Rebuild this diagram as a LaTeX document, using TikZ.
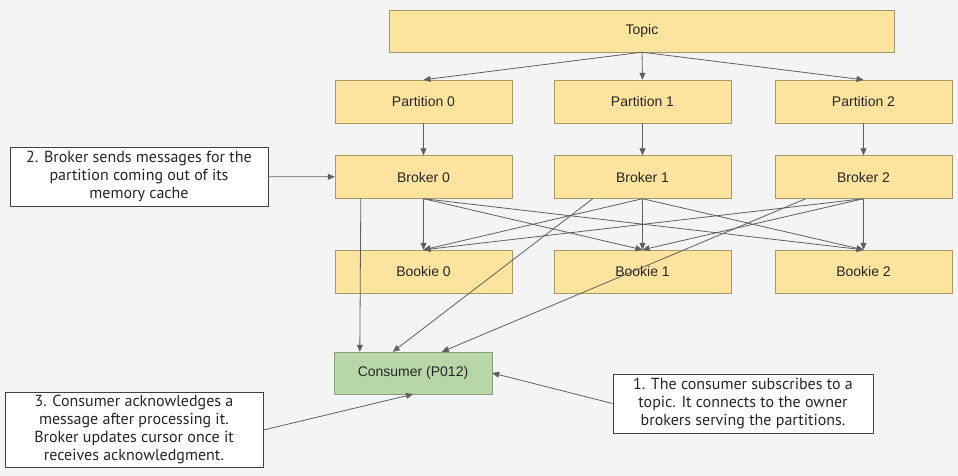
\documentclass[tikz,border=0pt]{standalone}
\usepackage{fontspec}
\setmainfont{Liberation Sans}
\newfontfamily\notefont{PT Sans}
\usetikzlibrary{arrows.meta}

\definecolor{boxyellow}{HTML}{FDE49E}
\definecolor{yellowline}{HTML}{A89968}
\definecolor{boxgreen}{HTML}{B7D7A8}
\definecolor{greenline}{HTML}{8A9F80}
\definecolor{arrowgray}{HTML}{5F5F5F}
\definecolor{bggray}{HTML}{F4F4F4}

\begin{document}
\begin{tikzpicture}[x=1pt, y=-1pt,
        box/.style={draw=yellowline, rectangle, fill=boxyellow, minimum width=177pt,
            minimum height=43pt, inner sep=0pt, font=\fontsize{14}{16}\selectfont, text=black!85},
        note/.style={draw=black!75, rectangle, fill=white, inner sep=0pt, line width=1pt,
            font=\notefont\fontsize{16}{18}\selectfont, text=black!85},
        arr/.style={->, draw=arrowgray, line width=0.8pt,
            >={Triangle[length=7pt, width=6pt]}}]

        % Background
        \fill[bggray] (0,0) rectangle (958,476);
        \useasboundingbox (0,0) rectangle (958,476);

        % Topic node
        \node[box, minimum width=505pt, minimum height=42pt] (topic) at (642,31) {Topic};

        % Partition nodes
        \node[box] (part0) at (423.5,101.5) {Partition 0};
        \node[box] (part1) at (642.5,101.5) {Partition 1};
        \node[box] (part2) at (863.5,101.5) {Partition 2};

        % Broker nodes
        \node[box] (broker0) at (423.5,177) {Broker 0};
        \node[box] (broker1) at (642.5,177) {Broker 1};
        \node[box] (broker2) at (863.5,177) {Broker 2};

        % Bookie nodes
        \node[box] (bookie0) at (423.5,271.5) {Bookie 0};
        \node[box] (bookie1) at (642.5,271.5) {Bookie 1};
        \node[box] (bookie2) at (863.5,271.5) {Bookie 2};

        % Consumer node
        \node[box, draw=greenline, fill=boxgreen, minimum width=158pt, minimum height=42pt] (consumer) at (413,373) {Consumer (P012)};

        % Notes with tabular for line breaks
        \node[note, minimum width=258pt, minimum height=59pt] (note2) at (139,176.5) {
            \begin{tabular}{c}
                2. Broker sends messages for the \\
                partition coming out of its \\
                memory cache
            \end{tabular}
        };
        \node[note, minimum width=258pt, minimum height=75pt] (note3) at (134,430) {
            \begin{tabular}{c}
                3. Consumer acknowledges a \\
                message after processing it. \\
                Broker updates cursor once it \\
                receives acknowledgment.
            \end{tabular}
        };
        \node[note, minimum width=260pt, minimum height=59pt] (note1) at (743,403.5) {
            \begin{tabular}{c}
                1. The consumer subscribes to a \\
                topic. It connects to the owner \\
                brokers serving the partitions.
            \end{tabular}
        };

        % Arrows
        \foreach \i in {0,1,2} {
            \draw[arr] (topic.south) -- (part\i.north);
            \draw[arr] (part\i) -- (broker\i);
            \foreach \j in {0,1,2}
                \draw[arr] (broker\i.south) -- (bookie\j.north);
        }
        \draw[arr] ([xshift=26pt]broker0.south west) -- ([xshift=26pt]consumer.north west);
        \draw[arr] ([xshift=39pt]broker1.south west) -- ([xshift=59pt]consumer.north west);
        \draw[arr] ([xshift=31pt]broker2.south west) -- ([xshift=108pt]consumer.north west);
        \draw[arr] (note2) -- (broker0);
        \draw[arr] (note1.west) -- (consumer.east);
        \draw[arr] (note3.east) -- (consumer.south);
    \end{tikzpicture}
\end{document}
